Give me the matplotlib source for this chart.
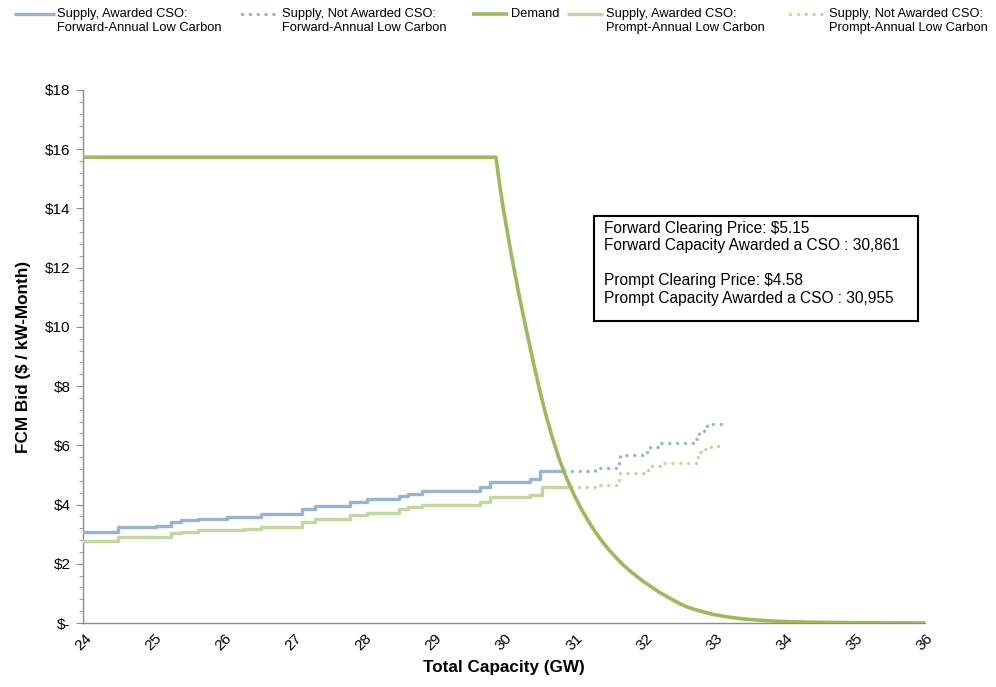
import matplotlib
matplotlib.use("Agg")
import matplotlib.pyplot as plt
from matplotlib.ticker import MultipleLocator, FuncFormatter, FixedLocator
from matplotlib.patches import Rectangle
from matplotlib.lines import Line2D

plt.rcParams['font.family'] = ['Liberation Sans', 'DejaVu Sans']

# ---- data ----
fwd_aw_x = [24.0, 24.5, 25.04, 25.25, 25.4, 25.64, 26.05, 26.54, 27.12, 27.3, 27.8, 28.05,
            28.5, 28.63, 28.83, 29.66, 29.8, 30.37, 30.51, 30.861]
fwd_aw_y = [3.08, 3.23, 3.28, 3.42, 3.48, 3.52, 3.59, 3.67, 3.84, 3.95, 4.10, 4.18,
            4.29, 4.36, 4.47, 4.60, 4.77, 4.85, 5.15, 5.15]

fwd_na_x = [30.861, 31.30, 31.64, 31.66, 32.04, 32.08, 32.22, 32.74, 32.78, 32.85, 32.9, 33.12]
fwd_na_y = [5.15, 5.25, 5.54, 5.67, 5.76, 5.95, 6.07, 6.20, 6.45, 6.65, 6.72, 6.72]

prm_aw_x = [24.0, 24.5, 25.25, 25.4, 25.64, 26.3, 26.54, 27.12, 27.3, 27.8, 28.05, 28.5,
            28.63, 28.83, 29.66, 29.8, 30.37, 30.54, 30.955]
prm_aw_y = [2.76, 2.89, 3.03, 3.07, 3.14, 3.18, 3.25, 3.42, 3.51, 3.65, 3.70, 3.84,
            3.91, 3.99, 4.10, 4.27, 4.32, 4.58, 4.58]

prm_na_x = [30.955, 31.30, 31.64, 31.66, 32.04, 32.08, 32.24, 32.74, 32.78, 32.85, 32.95, 33.1]
prm_na_y = [4.58, 4.66, 4.85, 5.06, 5.17, 5.31, 5.39, 5.60, 5.79, 5.87, 5.98, 5.98]

dem_x = [24.0, 29.885, 29.95, 30.0, 30.1, 30.2, 30.3, 30.4, 30.5, 30.6, 30.7, 30.8, 30.9,
         31.0, 31.1, 31.2, 31.3, 31.4, 31.5, 31.6, 31.7, 31.8, 31.9, 32.0, 32.1, 32.2,
         32.3, 32.4, 32.5, 32.6, 32.7, 32.8, 32.9, 33.0, 33.2, 33.4, 33.6, 33.8, 34.0,
         34.3, 34.6, 35.0, 35.5, 36.0]
dem_y = [15.73, 15.73, 14.6, 13.85, 12.5, 11.25, 10.1, 9.0, 7.95, 7.0, 6.18, 5.45, 4.85,
         4.32, 3.86, 3.45, 3.08, 2.75, 2.46, 2.20, 1.96, 1.75, 1.56, 1.38, 1.22, 1.06,
         0.92, 0.79, 0.66, 0.55, 0.47, 0.40, 0.34, 0.28, 0.20, 0.14, 0.10, 0.07, 0.05,
         0.03, 0.02, 0.01, 0.005, 0.0]

legend_labels = ["Supply, Awarded CSO:\nForward-Annual Low Carbon",
                 "Supply, Not Awarded CSO:\nForward-Annual Low Carbon",
                 "Demand",
                 "Supply, Awarded CSO:\nPrompt-Annual Low Carbon",
                 "Supply, Not Awarded CSO:\nPrompt-Annual Low Carbon"]

box_lines = ["Forward Clearing Price: $5.15",
             "Forward Capacity Awarded a CSO : 30,861",
             "",
             "Prompt Clearing Price: $4.58",
             "Prompt Capacity Awarded a CSO : 30,955"]

c_blue = "#95B3D7"
c_dem = "#9BBB59"
c_prm = "#C3D69B"
dot_style = (0, (0.05, 2.3))

W, H = 996, 687
fig = plt.figure(figsize=(W/100, H/100), dpi=100)
ax = fig.add_axes([83/W, 1-623/H, (925-83)/W, (623-90)/H])

ax.plot(fwd_aw_x, fwd_aw_y, drawstyle='steps-post', color=c_blue, lw=2.4, zorder=3)
ax.plot(fwd_na_x, fwd_na_y, drawstyle='steps-post', color=c_blue, lw=2.4,
        linestyle=dot_style, dash_capstyle='round', zorder=3)
ax.plot(prm_aw_x, prm_aw_y, drawstyle='steps-post', color=c_prm, lw=2.4, zorder=3)
ax.plot(prm_na_x, prm_na_y, drawstyle='steps-post', color=c_prm, lw=2.4,
        linestyle=dot_style, dash_capstyle='round', zorder=3)
ax.plot(dem_x, dem_y, color=c_dem, lw=2.6, zorder=4, solid_joinstyle='round')

ax.set_xlim(24, 36)
ax.set_ylim(0, 18)
ax.yaxis.set_major_locator(MultipleLocator(2))
ax.yaxis.set_minor_locator(MultipleLocator(0.4))
ax.yaxis.set_major_formatter(FuncFormatter(lambda v, p: "$-" if abs(v) < 1e-9 else f"${v:.0f}"))
ax.set_xticks(range(24, 37))
ax.set_xticklabels([str(v) for v in range(24, 37)], rotation=45, ha='center')
ax.xaxis.set_minor_locator(FixedLocator([29, 34]))

for s in ['top', 'right']:
    ax.spines[s].set_visible(False)
for s in ['left', 'bottom']:
    ax.spines[s].set_color('#8c8c8c')
    ax.spines[s].set_linewidth(1.0)
ax.tick_params(axis='y', which='major', length=5, color='#8c8c8c', labelsize=11, pad=4)
ax.tick_params(axis='y', which='minor', length=3, color='#8c8c8c')
ax.tick_params(axis='x', which='major', length=0, labelsize=11, pad=6)
ax.tick_params(axis='x', which='minor', length=4, direction='in', color='#b0b0b0')

ax.set_ylabel("FCM Bid ($ / kW-Month)", fontsize=12.3, fontweight='bold', labelpad=10)
ax.set_xlabel("Total Capacity (GW)", fontsize=12.3, fontweight='bold', labelpad=5)

# annotation box
fig.add_artist(Rectangle((594/W, 1-321/H), (918-594)/W, (321-216)/H,
                         transform=fig.transFigure, fill=True, facecolor='white',
                         edgecolor='black', lw=1.5, zorder=5))
fig.text(604/W, 1-221/H, "\n".join(box_lines), fontsize=11.2, va='top', ha='left',
         linespacing=1.2, zorder=6)

# legend (drawn entry by entry so the handle sits on the first text line)
leg_colors = [c_blue, c_blue, c_dem, c_prm, c_prm]
leg_styles = ['-', dot_style, '-', '-', dot_style]
handle_x = [(14, 55), (242, 280), (472, 508), (567, 603), (790, 826)]
text_x = [57, 282, 511, 606, 829]
for lab, col, sty, (hx0, hx1), tx in zip(legend_labels, leg_colors, leg_styles, handle_x, text_x):
    fig.add_artist(Line2D([hx0/W, hx1/W], [1-14/H, 1-14/H], transform=fig.transFigure,
                          color=col, lw=2.6 if col == c_dem else 2.4, linestyle=sty,
                          dash_capstyle='round', solid_capstyle='butt'))
    fig.text(tx/W, 1-8/H, lab, fontsize=9.3, va='top', ha='left', linespacing=1.2)

fig.savefig("out.png", dpi=100)
